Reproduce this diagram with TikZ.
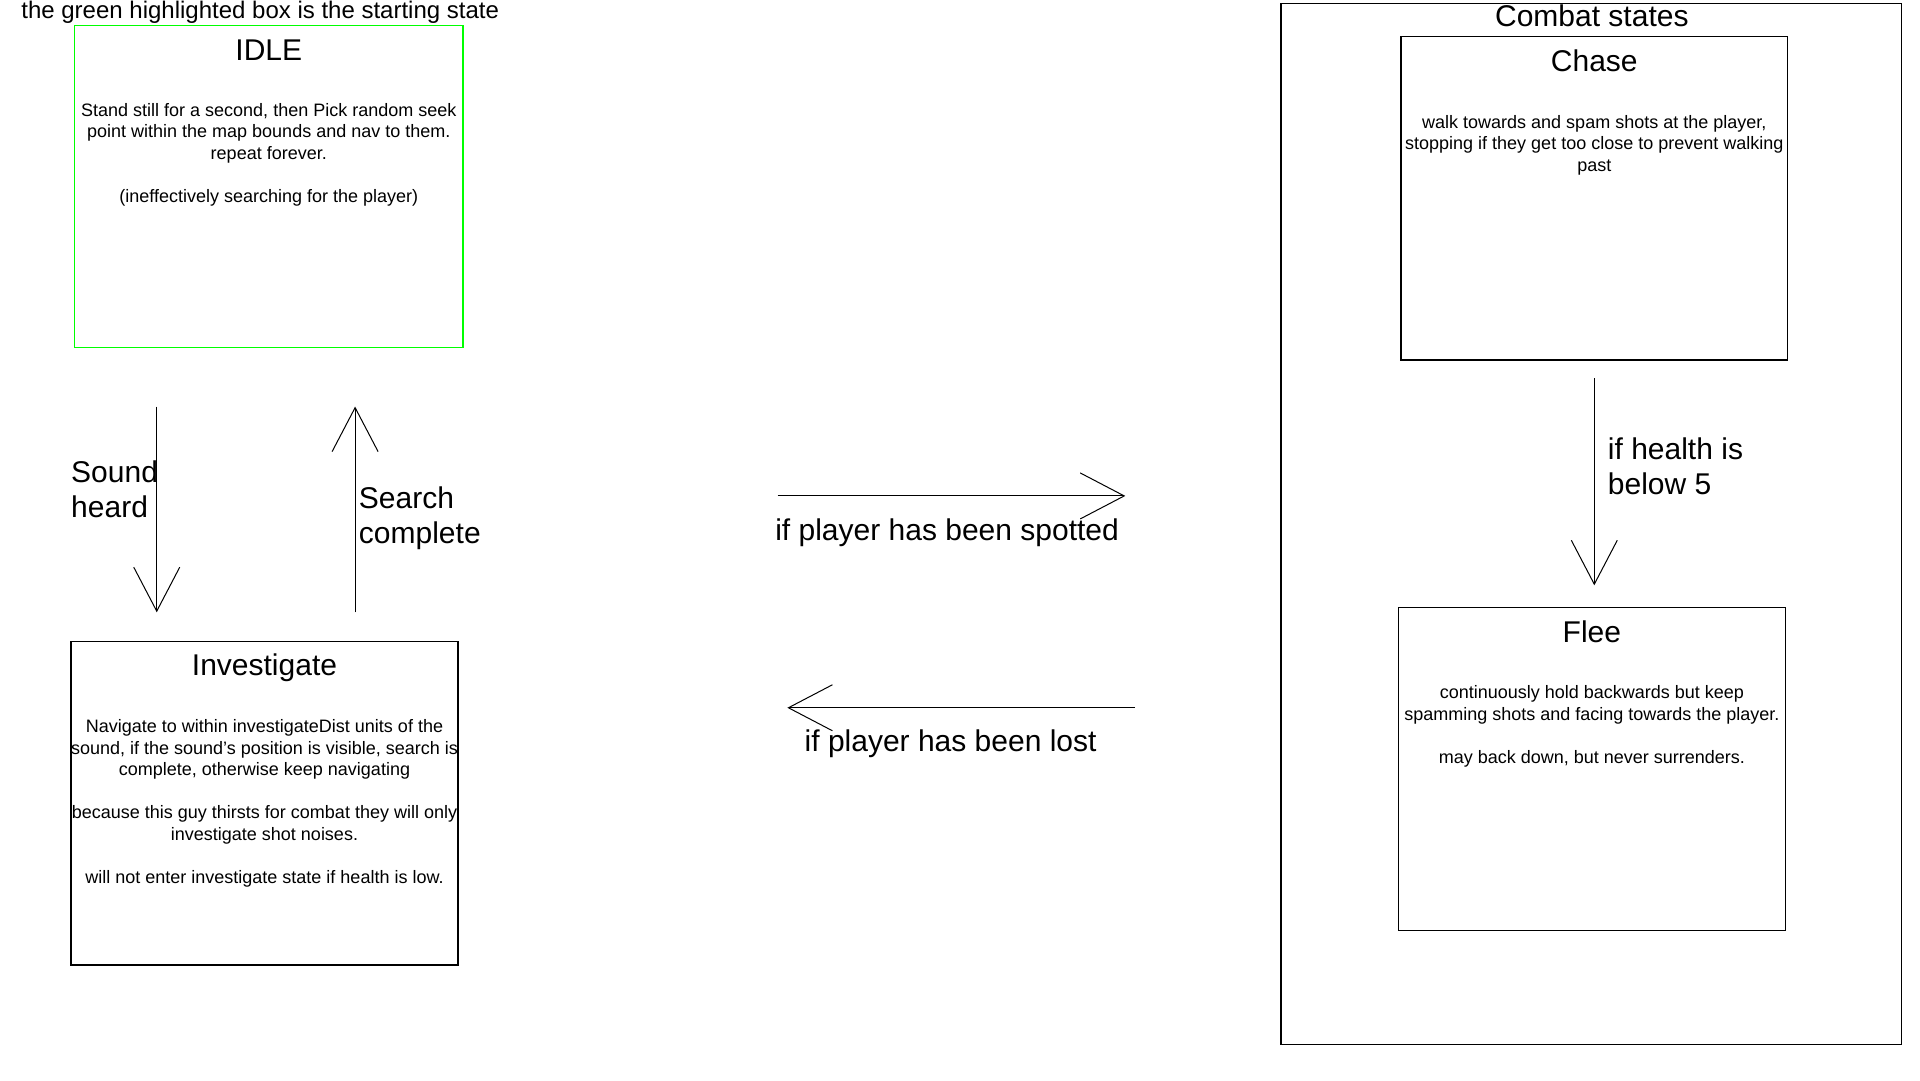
\documentclass[tikz,border=0pt]{standalone}
\usepackage{fontspec}
\setmainfont{Liberation Sans}
\usetikzlibrary{arrows.meta}
\definecolor{startgreen}{RGB}{0,255,0}
\begin{document}
\begin{tikzpicture}[x=1.2245pt,y=-1.2245pt,
  statebox/.style={draw=black,line width=1.4pt,minimum width=386.9pt,minimum height=323.3pt,inner sep=0pt},
  titletext/.style={font=\fontsize{30}{35.7}\selectfont,inner sep=0pt,anchor=base},
  bodytext/.style={font=\fontsize{18}{21.5}\selectfont,inner sep=0pt,anchor=base,align=center},
  labeltext/.style={font=\fontsize{30}{35.6}\selectfont,inner sep=0pt,anchor=base west,align=left},
  trans/.style={line width=1pt,-{Straight Barb[length=44pt,width=46pt,line width=1pt]}}
]
\useasboundingbox[fill=white] (0,0) rectangle (1568,882);

% heading
\node[font=\fontsize{24}{28}\selectfont,inner sep=0pt,anchor=base] (heading) at (212.5,15) {the green highlighted box is the starting state};

% IDLE
\node[statebox,draw=startgreen,line width=1.5pt,minimum width=388.2pt,minimum height=322pt] (idle) at (219.5,152.5) {};
\node[titletext] (idletitle) at (219.5,49) {IDLE};
\node[bodytext] (idlebody) at (219.5,165) {Stand still for a second, then Pick random seek\\point within the map bounds and nav to them.\\repeat forever.\\[21.5pt](ineffectively searching for the player)};

% Investigate
\node[statebox] (invest) at (216,656) {};
\node[titletext] (investtitle) at (216,552) {Investigate};
\node[bodytext] (investbody) at (216,721.5) {Navigate to within investigateDist units of the\\sound, if the sound’s position is visible, search is\\complete, otherwise keep navigating\\[21.5pt]because this guy thirsts for combat they will only\\investigate shot noises.\\[21.5pt]will not enter investigate state if health is low.};

% Combat states
\node[draw=black,line width=1.4pt,minimum width=620.8pt,minimum height=1040.8pt,inner sep=0pt] (combat) at (1299.5,428) {};
\node[titletext] (combattitle) at (1300,22) {Combat states};

% Chase
\node[statebox] (chase) at (1302,162) {};
\node[titletext] (chasetitle) at (1302,58) {Chase};
\node[bodytext] (chasebody) at (1302,140) {walk towards and spam shots at the player,\\stopping if they get too close to prevent walking\\past};

% Flee
\node[statebox] (flee) at (1300,628) {};
\node[titletext] (fleetitle) at (1300,525) {Flee};
\node[bodytext] (fleebody) at (1300,623.5) {continuously hold backwards but keep\\spamming shots and facing towards the player.\\[21.5pt]may back down, but never surrenders.};

% transition end points
\coordinate (soundA) at (128,332);
\coordinate (soundB) at (128,500);
\coordinate (searchA) at (290,500);
\coordinate (searchB) at (290,332);
\coordinate (spotA) at (635,405);
\coordinate (spotB) at (919,405);
\coordinate (lostA) at (927,578);
\coordinate (lostB) at (643,578);
\coordinate (healthA) at (1302,309);
\coordinate (healthB) at (1302,478);

\draw[trans] (soundA) -- (soundB);
\draw[trans] (searchA) -- (searchB);
\draw[trans] (spotA) -- (spotB);
\draw[trans] (lostA) -- (lostB);
\draw[trans] (healthA) -- (healthB);

% transition labels
\node[labeltext] (soundlabel) at (58,423) {Sound\\heard};
\node[labeltext] (searchlabel) at (293,444) {Search\\complete};
\node[labeltext] (spotlabel) at (633,441) {if player has been spotted};
\node[labeltext] (lostlabel) at (657,614) {if player has been lost};
\node[labeltext] (healthlabel) at (1313,404) {if health is\\below 5};
\end{tikzpicture}
\end{document}
